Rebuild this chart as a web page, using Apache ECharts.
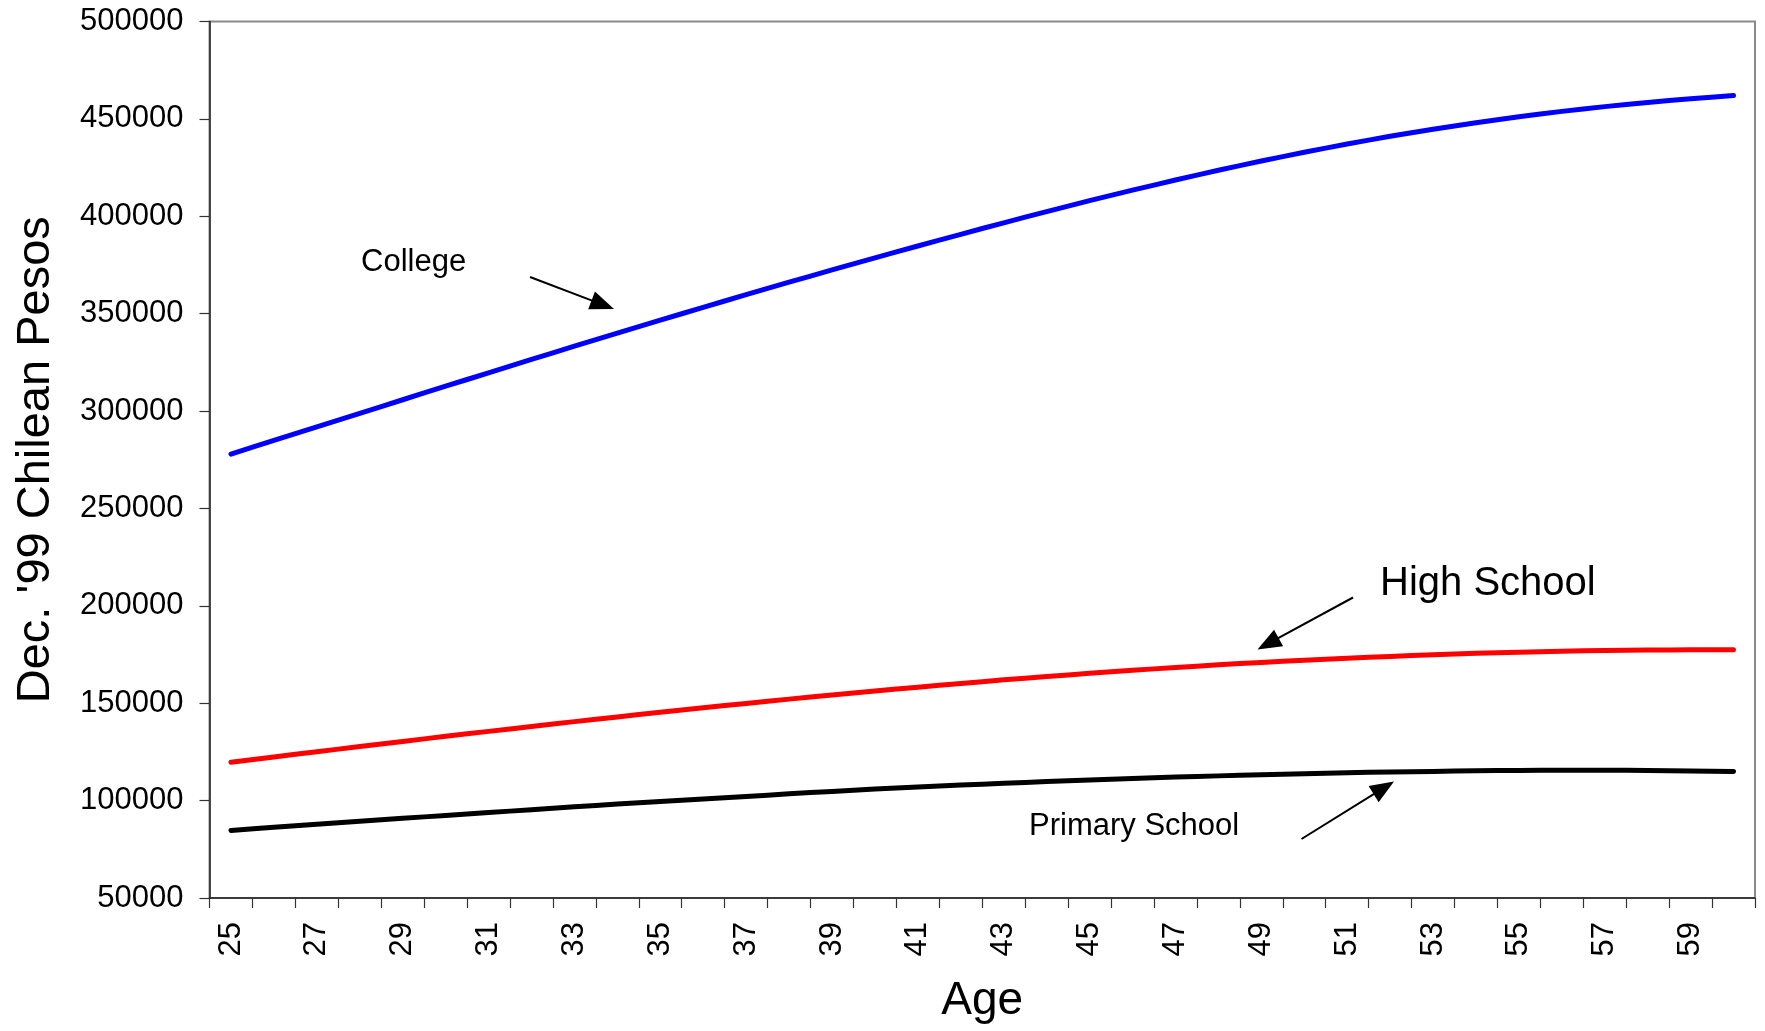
<!DOCTYPE html>
<html>
<head>
<meta charset="utf-8">
<script src="https://cdn.jsdelivr.net/npm/echarts@6/dist/echarts.min.js"></script>
<style>
html,body{margin:0;padding:0;background:#fff;}
#chart{width:1765px;height:1031px;}
</style>
</head>
<body>
<div id="chart"></div>
<script>
// ---- data ----
const ages = ['25','26','27','28','29','30','31','32','33','34','35','36','37','38','39','40','41','42',
              '43','44','45','46','47','48','49','50','51','52','53','54','55','56','57','58','59','60'];
const college = [277900,284900,291900,298850,305800,312750,319650,326500,333300,340000,346650,353250,
                 359750,366150,372450,378650,384750,390750,396650,402400,408000,413400,418600,423600,
                 428350,432850,437100,441050,444700,448050,451100,453850,456300,458450,460350,462000];
const highSchool = [119700,122400,125100,127750,130400,133000,135550,138050,140550,142950,145350,147650,
                    149900,152100,154250,156300,158250,160150,162000,163700,165350,166900,168350,169700,
                    170950,172100,173100,174050,174900,175600,176200,176700,177050,177300,177450,177500];
const primary = [84700,86300,87900,89400,90900,92400,93900,95300,96800,98200,99500,100800,
                 102100,103500,104700,105900,107000,108000,108900,109800,110600,111400,112100,112700,
                 113300,113800,114300,114700,115000,115300,115500,115600,115600,115500,115200,114900];
const yMin = 50000, yMax = 500000, yStep = 50000;
const labels = {college: 'College', high: 'High School', primary: 'Primary School'};
const axisNames = {x: 'Age', y: "Dec. '99 Chilean Pesos"};

const FONT = '"Liberation Sans", Arial, Helvetica, sans-serif';

function arrow(x1, y1, x2, y2) {
  const L = 24, W = 9.5;
  const dx = x2 - x1, dy = y2 - y1, d = Math.hypot(dx, dy);
  const ux = dx / d, uy = dy / d;
  const bx = x2 - ux * L, by = y2 - uy * L;
  return [
    {type: 'line', shape: {x1: x1, y1: y1, x2: bx + ux * 2, y2: by + uy * 2},
     style: {stroke: '#000', lineWidth: 2}, z: 100},
    {type: 'polygon', shape: {points: [[x2, y2], [bx - uy * W, by + ux * W], [bx + uy * W, by - ux * W]]},
     style: {fill: '#000'}, z: 100}
  ];
}
function label(text, x, y, size) {
  return {type: 'text', x: x, y: y, z: 100,
          style: {text: text, fontSize: size, fontFamily: FONT, fill: '#000',
                  align: 'left', verticalAlign: 'middle'}};
}

const chart = echarts.init(document.getElementById('chart'), null, {renderer: 'canvas'});
const lineSeries = (name, data, color) => ({
  name: name, type: 'line', data: data, showSymbol: false, smooth: 0.2,
  lineStyle: {color: color, width: 5, cap: 'round', join: 'round'},
  itemStyle: {color: color}, animation: false
});

chart.setOption({
  animation: false,
  backgroundColor: '#fff',
  grid: {left: 209.5, right: 10, top: 21.5, bottom: 133, show: true,
         borderColor: '#8a8a8a', borderWidth: 2, backgroundColor: '#fff'},
  xAxis: {
    type: 'category', data: ages, boundaryGap: true,
    name: axisNames.x, nameLocation: 'middle', nameGap: 80,
    nameTextStyle: {fontSize: 46, fontFamily: FONT, color: '#000'},
    axisLine: {lineStyle: {color: '#222', width: 1.5}},
    axisTick: {show: true, interval: 0, length: 10, inside: false, lineStyle: {color: '#333', width: 1.2}},
    axisLabel: {interval: 1, rotate: 90, margin: 24, fontSize: 31, fontFamily: FONT, color: '#000'},
    splitLine: {show: false}
  },
  yAxis: {
    type: 'value', min: yMin, max: yMax, interval: yStep,
    name: axisNames.y, nameLocation: 'middle', nameGap: 150, nameRotate: 90,
    nameTextStyle: {fontSize: 47, fontFamily: FONT, color: '#000'},
    axisLine: {show: true, lineStyle: {color: '#222', width: 1.5}},
    axisTick: {show: true, length: 10, inside: false, lineStyle: {color: '#333', width: 1.2}},
    axisLabel: {margin: 26, fontSize: 31, fontFamily: FONT, color: '#000',
                formatter: function (v) { return String(v); }},
    splitLine: {show: false}
  },
  series: [
    lineSeries(labels.college, college, '#0000ff'),
    lineSeries(labels.high, highSchool, '#ff0000'),
    lineSeries(labels.primary, primary, '#000000')
  ],
  graphic: [
    label(labels.college, 361, 262, 31),
    ...arrow(530, 277, 614, 309),
    label(labels.high, 1380, 583.5, 40),
    ...arrow(1353, 597.5, 1257.5, 649.5),
    label(labels.primary, 1029, 826, 31),
    ...arrow(1301.5, 839, 1394, 781.5)
  ]
});
</script>
</body>
</html>
